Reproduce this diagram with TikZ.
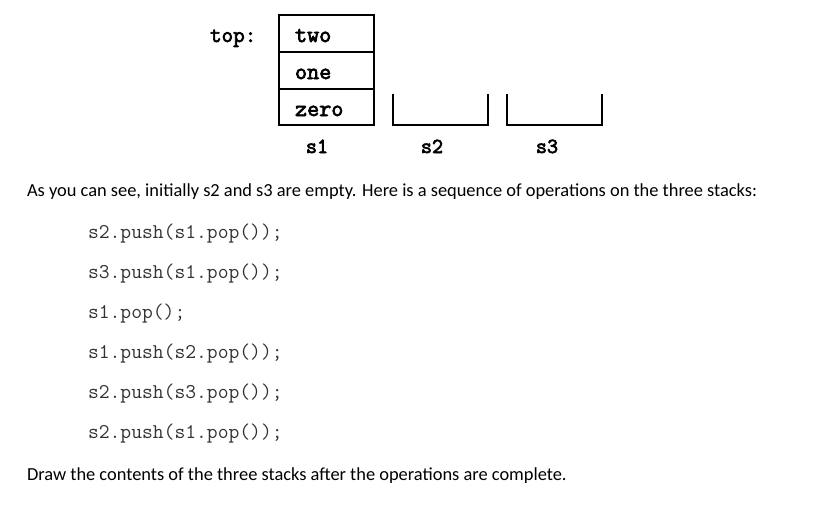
\documentclass[tikz,border=0pt]{standalone}
\usepackage{fontspec}
\setmainfont{Carlito}
\newfontfamily\boldtt[FakeBold=3]{Latin Modern Mono}
\begin{document}
\begin{tikzpicture}[x=1pt,y=-1pt,
  every node/.style={inner sep=0pt,outer sep=0pt},
  boxtxt/.style={anchor=base west,font=\boldtt\fontsize{23.5}{23.5}\selectfont},
  lbl/.style={anchor=base,font=\boldtt\fontsize{21.5}{21.5}\selectfont},
  code/.style={anchor=base west,font=\ttfamily\fontsize{21}{21}\selectfont,text=black!80},
  para/.style={anchor=base west,font=\fontsize{18.4}{18.4}\selectfont},
  stk/.style={line width=1.3pt}]
\useasboundingbox (0,0) rectangle (826,511);
% stack s1
\draw[stk] (279,15) rectangle (374,125);
\draw[stk] (279,52) -- (374,52);
\draw[stk] (279,89) -- (374,89);
\node[boxtxt] (two) at (295,42) {two};
\node[boxtxt] (one) at (295,79) {one};
\node[boxtxt] (zero) at (295,116) {zero};
\node[anchor=base west,font=\boldtt\fontsize{22.5}{22.5}\selectfont] (top) at (210,42) {top:};
% s2, s3
\draw[stk] (393,94) -- (393,125) -- (488,125) -- (488,94);
\draw[stk] (507,94) -- (507,125) -- (602,125) -- (602,94);
\node[lbl] (s1) at (317,153) {s1};
\node[lbl] (s2) at (432,153) {s2};
\node[lbl] (s3) at (547,153) {s3};
% text
\node[para] (p1) at (27,196) {As you can see, initially s2 and s3 are empty. Here is a sequence of operations on the three stacks:};
\node[code] (c1) at (88,238) {s2.push(s1.pop());};
\node[code] (c2) at (88,278) {s3.push(s1.pop());};
\node[code] (c3) at (88,318) {s1.pop();};
\node[code] (c4) at (88,358) {s1.push(s2.pop());};
\node[code] (c5) at (88,398) {s2.push(s3.pop());};
\node[code] (c6) at (88,438) {s2.push(s1.pop());};
\node[para] (p2) at (27,480) {Draw the contents of the three stacks after the operations are complete.};
\end{tikzpicture}
\end{document}
